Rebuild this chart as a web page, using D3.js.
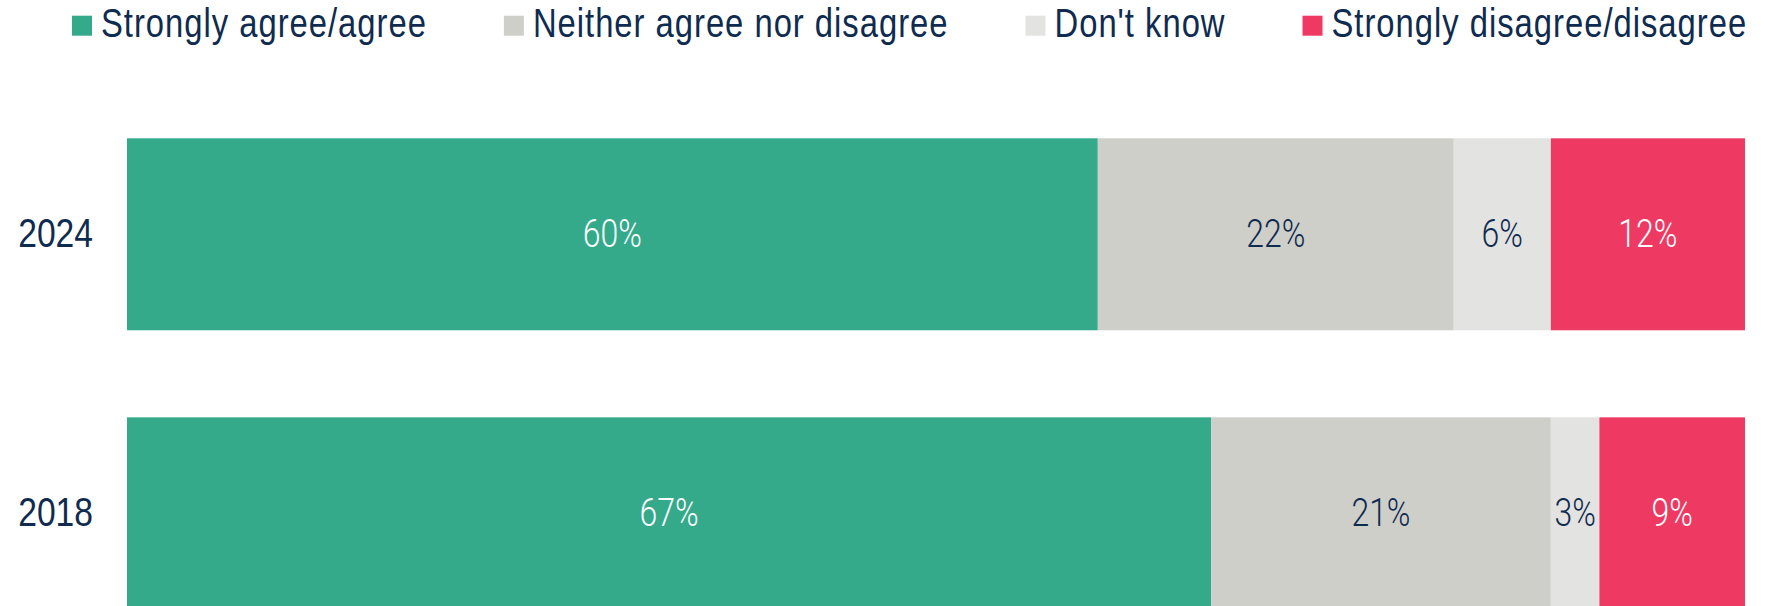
<!DOCTYPE html>
<html>
<head>
<meta charset="utf-8">
<script src="https://cdn.jsdelivr.net/npm/d3@7"></script>
<style>
  html, body { margin: 0; padding: 0; background: #ffffff; }
  svg { display: block; }
  text { font-family: "Liberation Sans", Arial, sans-serif; }
</style>
</head>
<body>
<svg id="chart" width="1775" height="606"></svg>
<script>
// ---- data ----
const years = ["2024", "2018"];
const seriesNames = ["Strongly agree/agree", "Neither agree nor disagree", "Don't know", "Strongly disagree/disagree"];
const agree    = [60, 67];
const neither  = [22, 21];
const dontKnow = [6, 3];
const disagree = [12, 9];
const seriesColors = ["#34aa8b", "#cfcfca", "#e3e3e1", "#ee3962"];
const labelColors  = ["#ffffff", "#0f2b50", "#0f2b50", "#ffffff"];

const seriesValues = [agree, neither, dontKnow, disagree];
const rows = years.map((y, i) => {
  const r = { year: y };
  seriesNames.forEach((s, k) => { r[s] = seriesValues[k][i]; });
  return r;
});

const svg = d3.select("#chart");
const navy = "#0f2b50";
const NARROW = 0.82; // horizontal condensing to mimic a narrow grotesque

const x = d3.scaleLinear().domain([0, 100]).range([127, 1745]);
const y = d3.scaleBand().domain(years).range([138.3, 609.3]).paddingInner(0.312).paddingOuter(0);

const stacked = d3.stack().keys(seriesNames)(rows);

// bars
const layers = svg.append("g").selectAll("g")
  .data(stacked).join("g")
  .attr("fill", (d, i) => seriesColors[i]);

layers.selectAll("rect")
  .data(d => d)
  .join("rect")
  .attr("x", d => x(d[0]))
  .attr("y", d => y(d.data.year))
  .attr("width", d => x(d[1]) - x(d[0]))
  .attr("height", y.bandwidth());

// value labels
stacked.forEach((layer, i) => {
  svg.append("g").selectAll("text")
    .data(layer).join("text")
    .attr("transform", d => `translate(${(x(d[0]) + x(d[1])) / 2},${y(d.data.year) + y.bandwidth() / 2 + 12.5}) scale(${NARROW},1)`)
    .attr("text-anchor", "middle")
    .attr("font-size", 39)
    .attr("font-weight", 300)
    .style("font-family", "Roboto, 'Liberation Sans', sans-serif")
    .attr("fill", labelColors[i])
    .text(d => (d[1] - d[0]) + "%");
});

// year axis
const yAxis = d3.axisLeft(y).tickSize(0).tickPadding(0);
const gy = svg.append("g").attr("transform", "translate(93,0)").call(yAxis);
gy.select(".domain").remove();
gy.selectAll(".tick text")
  .attr("font-size", 41)
  .attr("fill", navy)
  .attr("dy", null)
  .attr("x", null)
  .attr("y", null)
  .attr("transform", `translate(0,12.5) scale(${NARROW},1)`)
  .style("font-family", "'Liberation Sans', Arial, sans-serif");

// legend
const legend = svg.append("g");
let lx = 72;
seriesNames.forEach((name, i) => {
  const g = legend.append("g");
  g.append("rect")
    .attr("x", lx).attr("y", 15.7)
    .attr("width", 20).attr("height", 20)
    .attr("fill", seriesColors[i]);
  const t = g.append("text")
    .attr("transform", `translate(${lx + 29},37) scale(${NARROW},1)`)
    .attr("font-size", 40)
    .attr("letter-spacing", 1.2)
    .attr("fill", navy)
    .text(name);
  const w = t.node().getComputedTextLength() * NARROW;
  lx = lx + 29 + w + 77;
});
</script>
</body>
</html>
